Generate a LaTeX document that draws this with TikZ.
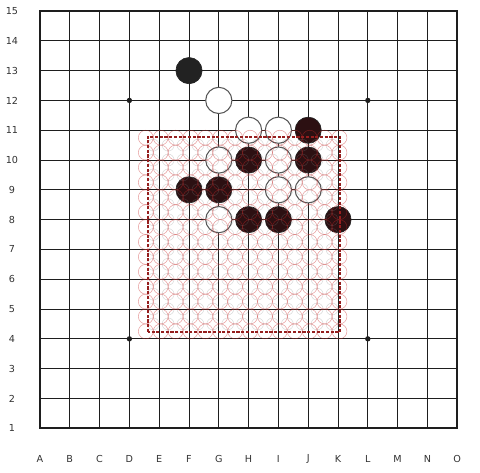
\documentclass[tikz,border=0pt]{standalone}
\usepackage{fontspec}
\setmainfont{DejaVu Sans}
\usetikzlibrary{positioning}
\definecolor{gridline}{RGB}{30,30,30}
\definecolor{labelgray}{RGB}{50,50,50}
\definecolor{stoneblack}{RGB}{34,34,34}
\definecolor{stonezone}{RGB}{44,16,18}
\definecolor{zonered}{RGB}{200,40,40}

\tikzset{
  blackstone/.style={fill=stoneblack,draw=stoneblack,line width=0.6pt},
  zonestone/.style={fill=stonezone,draw=stoneblack,line width=0.6pt},
  whitestone/.style={fill=white,draw=gridline!75,line width=1pt},
  boardlabel/.style={text=labelgray,font=\fontsize{9.2}{10}\selectfont}
}

\begin{document}
\begin{tikzpicture}
      \useasboundingbox (-1.342,-1.477) rectangle (14.765,14.37);
      % board lines
      \foreach \i in {1,...,13} {
        \draw[line width=0.9pt,gridline] (\i,0) -- (\i,14);
        \draw[line width=0.9pt,gridline] (0,\i) -- (14,\i);
      }
      \draw[line width=2pt,gridline] (0,0) rectangle (14,14);
      \foreach \p in {(3,11),(11,11),(3,3),(11,3),(7,7)}
        \fill[gridline] \p circle [radius=0.09];
      % coordinates
      \foreach \l [count=\i from 0] in {A,B,C,D,E,F,G,H,I,J,K,L,M,N,O}
        \node[boardlabel] (col\l) at (\i,-1.02) {\l};
      \foreach \n in {1,...,15}
        \node[boardlabel] (row\n) at (-0.94,\n-1) {\n};
      % stones
      \draw[blackstone] (5,12) circle [radius=0.44];
      \foreach \p in {(9,10),(7,9),(9,9),(5,8),(6,8),(7,7),(8,7),(10,7)}
        \draw[zonestone] \p circle [radius=0.44];
      \foreach \p in {(6,11),(7,10),(8,10),(6,9),(8,9),(8,8),(9,8),(6,7)}
        \draw[whitestone] \p circle [radius=0.44];
      % candidate zone
      \foreach \x in {0,...,13}
        \foreach \y in {0,...,13}
          \draw[zonered,opacity=0.45,line width=0.5pt] (3.55+0.5*\x,3.25+0.5*\y) circle [radius=0.25];
      \foreach \x in {0,...,12}
        \foreach \y in {0,...,12}
          \draw[gray,opacity=0.3,line width=0.5pt] (3.8+0.5*\x,3.5+0.5*\y) circle [radius=0.2];
      \draw[zonered!75!black,line width=1.8pt,dash pattern=on 3pt off 1.5pt] (3.61,3.23) rectangle (10.07,9.78);
    \end{tikzpicture}
\end{document}
